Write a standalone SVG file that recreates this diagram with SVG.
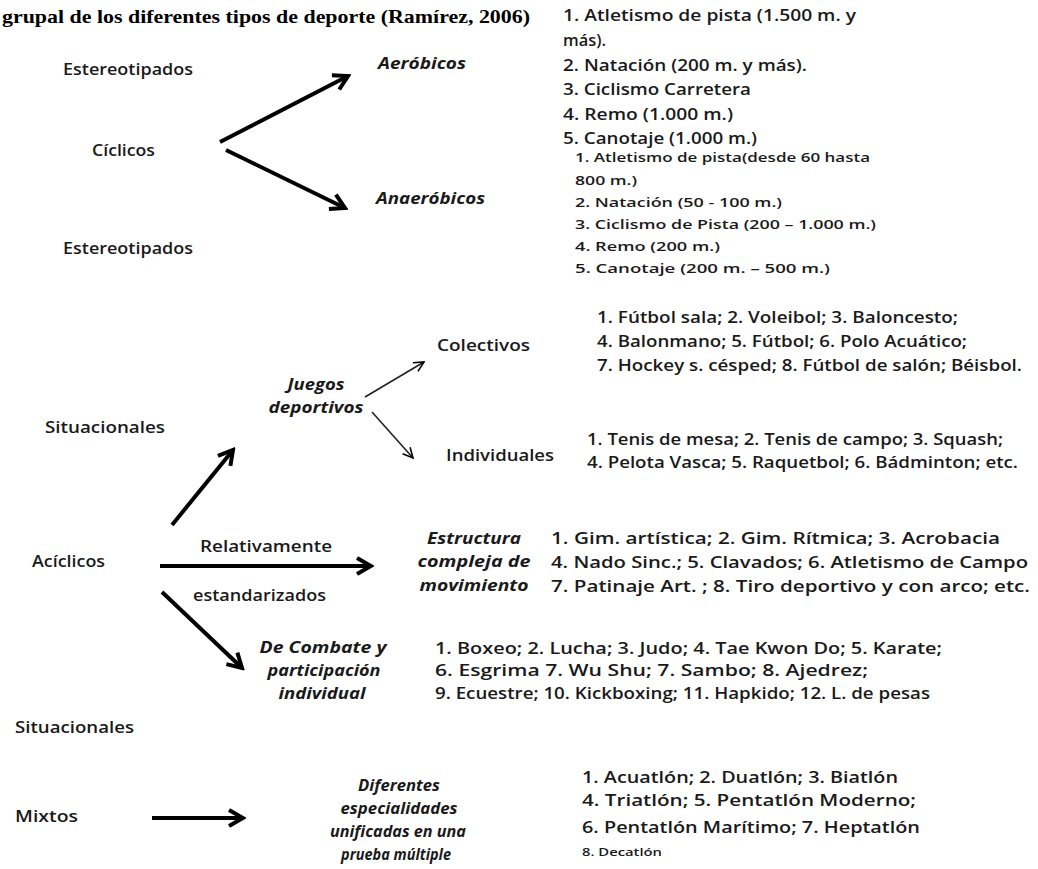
<svg xmlns="http://www.w3.org/2000/svg" width="1038" height="869" viewBox="0 0 1038 869">
<defs>
<marker id="ah" viewBox="0 0 20 20" refX="17" refY="10" markerWidth="20" markerHeight="20" markerUnits="userSpaceOnUse" orient="auto">
<path d="M3,2 L17,10 L3,18" fill="none" stroke="#000" stroke-width="4" stroke-linejoin="miter"/>
</marker>
<marker id="ahs" viewBox="0 0 12 12" refX="11" refY="6" markerWidth="12" markerHeight="12" markerUnits="userSpaceOnUse" orient="auto">
<path d="M1,1 L11,6 L1,11" fill="none" stroke="#000" stroke-width="1.6"/>
</marker>
</defs>
<style>
text{font-family:"Open Sans","Liberation Sans",sans-serif;fill:#1a1a1a;font-size:15.5px;font-weight:600;}
.t{font-family:"Liberation Serif",serif;font-weight:bold;font-size:19px;fill:#000;}
.i{font-style:italic;font-weight:bold;}
.c{text-anchor:middle;}
.s{font-size:12.5px;}
.xs{font-size:10px;}
.thick{stroke:#000;stroke-width:4;fill:none;marker-end:url(#ah);}
.thin{stroke:#222;stroke-width:1.6;fill:none;marker-end:url(#ahs);}
</style>
<rect width="1038" height="869" fill="#fff"/>
<text class="t" x="2" y="23" textLength="528" lengthAdjust="spacingAndGlyphs">grupal de los diferentes tipos de deporte (Ramírez, 2006)</text>

<g id="connectors">
<line class="thick" x1="220" y1="142" x2="348" y2="76"/>
<line class="thick" x1="226" y1="150" x2="345" y2="208"/>
<line class="thick" x1="172" y1="525" x2="233" y2="450"/>
<line class="thin" x1="365" y1="397" x2="424" y2="362"/>
<line class="thin" x1="372" y1="412" x2="413" y2="458"/>
<line class="thick" x1="160" y1="566" x2="371" y2="566"/>
<line class="thick" x1="162" y1="592" x2="242" y2="668"/>
<line class="thick" x1="152" y1="818" x2="243" y2="818"/>
</g>

<g id="estereotipados1"><text x="63" y="75" textLength="130" lengthAdjust="spacingAndGlyphs">Estereotipados</text></g>
<g id="ciclicos"><text x="92" y="156" textLength="63" lengthAdjust="spacingAndGlyphs">Cíclicos</text></g>
<g id="estereotipados2"><text x="63" y="254" textLength="130" lengthAdjust="spacingAndGlyphs">Estereotipados</text></g>
<g id="aerobicos"><text class="i" x="378" y="69" textLength="88" lengthAdjust="spacingAndGlyphs">Aeróbicos</text></g>
<g id="anaerobicos"><text class="i" x="376" y="204" textLength="109" lengthAdjust="spacingAndGlyphs">Anaeróbicos</text></g>

<g id="lista-aerobicos">
<text x="563" y="21" textLength="293" lengthAdjust="spacingAndGlyphs">1. Atletismo de pista (1.500 m. y</text>
<text x="563" y="46" textLength="43" lengthAdjust="spacingAndGlyphs">más).</text>
<text x="563" y="71" textLength="244" lengthAdjust="spacingAndGlyphs">2. Natación (200 m. y más).</text>
<text x="563" y="95" textLength="188" lengthAdjust="spacingAndGlyphs">3. Ciclismo  Carretera</text>
<text x="563" y="120" textLength="170" lengthAdjust="spacingAndGlyphs">4. Remo  (1.000 m.)</text>
<text x="563" y="144" textLength="194" lengthAdjust="spacingAndGlyphs">5. Canotaje (1.000 m.)</text>
</g>
<g id="lista-anaerobicos">
<text class="s" x="575" y="162" textLength="295" lengthAdjust="spacingAndGlyphs">1. Atletismo de pista(desde 60 hasta</text>
<text class="s" x="575" y="185" textLength="62" lengthAdjust="spacingAndGlyphs">800 m.)</text>
<text class="s" x="575" y="207" textLength="207" lengthAdjust="spacingAndGlyphs">2. Natación (50 - 100 m.)</text>
<text class="s" x="575" y="229" textLength="301" lengthAdjust="spacingAndGlyphs">3. Ciclismo de Pista (200 – 1.000 m.)</text>
<text class="s" x="575" y="251" textLength="145" lengthAdjust="spacingAndGlyphs">4. Remo (200 m.)</text>
<text class="s" x="575" y="273" textLength="255" lengthAdjust="spacingAndGlyphs">5. Canotaje (200 m. – 500 m.)</text>
</g>

<g id="situacionales1"><text x="45" y="433" textLength="120" lengthAdjust="spacingAndGlyphs">Situacionales</text></g>
<g id="juegos"><text class="i c" x="316" y="390" textLength="57" lengthAdjust="spacingAndGlyphs">Juegos</text><text class="i c" x="316" y="413" textLength="95" lengthAdjust="spacingAndGlyphs">deportivos</text></g>
<g id="colectivos"><text x="437" y="351" textLength="93" lengthAdjust="spacingAndGlyphs">Colectivos</text></g>
<g id="individuales"><text x="446" y="461" textLength="108" lengthAdjust="spacingAndGlyphs">Individuales</text></g>
<g id="lista-colectivos">
<text x="597" y="323" textLength="361" lengthAdjust="spacingAndGlyphs">1. Fútbol sala; 2. Voleibol; 3. Baloncesto;</text>
<text x="597" y="347" textLength="370" lengthAdjust="spacingAndGlyphs">4. Balonmano; 5. Fútbol; 6. Polo Acuático;</text>
<text x="597" y="371" textLength="425" lengthAdjust="spacingAndGlyphs">7. Hockey  s. césped; 8. Fútbol de salón; Béisbol.</text>
</g>
<g id="lista-individuales">
<text x="587" y="445" textLength="416" lengthAdjust="spacingAndGlyphs">1. Tenis de mesa;  2. Tenis de campo;  3. Squash;</text>
<text x="587" y="468" textLength="431" lengthAdjust="spacingAndGlyphs">4. Pelota Vasca; 5. Raquetbol; 6. Bádminton; etc.</text>
</g>

<g id="aciclicos"><text x="32" y="567" textLength="73" lengthAdjust="spacingAndGlyphs">Acíclicos</text></g>
<g id="relativamente"><text x="200" y="552" textLength="132" lengthAdjust="spacingAndGlyphs">Relativamente</text><text x="193" y="601" textLength="133" lengthAdjust="spacingAndGlyphs">estandarizados</text></g>
<g id="estructura">
<text class="i c" x="474" y="544" textLength="94" lengthAdjust="spacingAndGlyphs">Estructura</text>
<text class="i c" x="474" y="567" textLength="113" lengthAdjust="spacingAndGlyphs">compleja de</text>
<text class="i c" x="474" y="591" textLength="109" lengthAdjust="spacingAndGlyphs">movimiento</text>
</g>
<g id="lista-estructura">
<text x="551" y="544" textLength="449" lengthAdjust="spacingAndGlyphs">1. Gim.  artística; 2. Gim. Rítmica; 3. Acrobacia</text>
<text x="551" y="568" textLength="477" lengthAdjust="spacingAndGlyphs">4. Nado Sinc.; 5. Clavados; 6. Atletismo de Campo</text>
<text x="551" y="592" textLength="479" lengthAdjust="spacingAndGlyphs">7. Patinaje Art. ; 8. Tiro deportivo y con arco; etc.</text>
</g>
<g id="combate">
<text class="i c" x="323" y="653" textLength="127" lengthAdjust="spacingAndGlyphs">De Combate  y</text>
<text class="i c" x="324" y="676" textLength="113" lengthAdjust="spacingAndGlyphs">participación</text>
<text class="i c" x="322" y="699" textLength="87" lengthAdjust="spacingAndGlyphs">individual</text>
</g>
<g id="lista-combate">
<text x="435" y="654" textLength="507" lengthAdjust="spacingAndGlyphs">1. Boxeo;  2. Lucha;  3. Judo; 4. Tae Kwon Do; 5. Karate;</text>
<text x="435" y="676" textLength="433" lengthAdjust="spacingAndGlyphs">6. Esgrima 7. Wu Shu; 7. Sambo; 8. Ajedrez;</text>
<text x="435" y="699" textLength="495" lengthAdjust="spacingAndGlyphs">9. Ecuestre; 10. Kickboxing; 11. Hapkido; 12. L. de pesas</text>
</g>

<g id="situacionales2"><text x="15" y="733" textLength="119" lengthAdjust="spacingAndGlyphs">Situacionales</text></g>
<g id="mixtos"><text x="15" y="822" textLength="63" lengthAdjust="spacingAndGlyphs">Mixtos</text></g>
<g id="diferentes">
<text class="i c" x="399" y="791" textLength="82" lengthAdjust="spacingAndGlyphs">Diferentes</text>
<text class="i c" x="399" y="814" textLength="117" lengthAdjust="spacingAndGlyphs">especialidades</text>
<text class="i c" x="398" y="837" textLength="136" lengthAdjust="spacingAndGlyphs">unificadas  en  una</text>
<text class="i c" x="396" y="860" textLength="110" lengthAdjust="spacingAndGlyphs">prueba  múltiple</text>
</g>
<g id="lista-mixtos">
<text x="582" y="783" textLength="316" lengthAdjust="spacingAndGlyphs">1. Acuatlón; 2. Duatlón; 3. Biatlón</text>
<text x="582" y="806" textLength="334" lengthAdjust="spacingAndGlyphs">4. Triatlón; 5. Pentatlón Moderno;</text>
<text x="582" y="833" textLength="338" lengthAdjust="spacingAndGlyphs">6. Pentatlón Marítimo; 7. Heptatlón</text>
<text class="xs" x="582" y="856" textLength="80" lengthAdjust="spacingAndGlyphs">8. Decatlón</text>
</g>
</svg>
